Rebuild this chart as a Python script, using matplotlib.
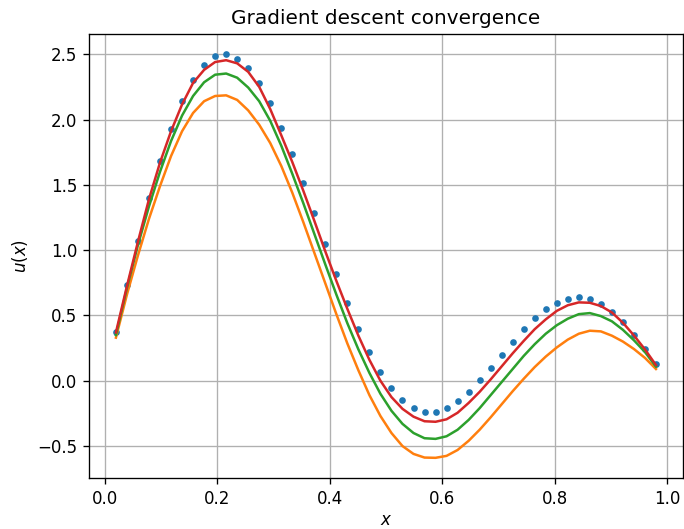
import numpy as np
import matplotlib
matplotlib.use("Agg")
import matplotlib.pyplot as plt

# sample locations k/51, k = 1..50
x = np.arange(1, 51) / 51.0

u_data = [0.370, 0.732, 1.071, 1.396, 1.681, 1.931, 2.140, 2.301, 2.416, 2.485,
          2.500, 2.467, 2.391, 2.276, 2.123, 1.937, 1.733, 1.511, 1.281, 1.046,
          0.817, 0.597, 0.398, 0.220, 0.067, -0.056, -0.148, -0.209, -0.237, -0.237,
          -0.209, -0.158, -0.087, 0.004, 0.099, 0.200, 0.298, 0.393, 0.477, 0.546,
          0.597, 0.628, 0.638, 0.623, 0.587, 0.526, 0.447, 0.352, 0.245, 0.125]

u_orange = [0.330, 0.660, 0.960, 1.240, 1.490, 1.720, 1.910, 2.050, 2.140, 2.180,
            2.185, 2.150, 2.070, 1.960, 1.820, 1.645, 1.440, 1.215, 0.980, 0.745,
            0.510, 0.285, 0.080, -0.110, -0.270, -0.400, -0.500, -0.560, -0.588, -0.590,
            -0.575, -0.530, -0.460, -0.375, -0.280, -0.180, -0.080, 0.015, 0.105, 0.185,
            0.255, 0.315, 0.360, 0.383, 0.378, 0.345, 0.300, 0.243, 0.175, 0.090]

u_green = [0.350, 0.710, 1.040, 1.335, 1.600, 1.835, 2.030, 2.180, 2.285, 2.343,
           2.352, 2.320, 2.245, 2.140, 1.990, 1.800, 1.585, 1.360, 1.125, 0.890,
           0.660, 0.440, 0.240, 0.060, -0.100, -0.230, -0.330, -0.400, -0.440, -0.445,
           -0.425, -0.375, -0.300, -0.210, -0.110, -0.010, 0.090, 0.190, 0.280, 0.360,
           0.425, 0.475, 0.510, 0.518, 0.495, 0.455, 0.390, 0.310, 0.220, 0.108]

u_red = [0.370, 0.725, 1.065, 1.390, 1.670, 1.910, 2.115, 2.280, 2.380, 2.440,
         2.454, 2.430, 2.365, 2.250, 2.080, 1.880, 1.675, 1.455, 1.225, 0.990,
         0.765, 0.550, 0.345, 0.160, 0.000, -0.125, -0.215, -0.275, -0.310, -0.314,
         -0.295, -0.245, -0.170, -0.085, 0.010, 0.110, 0.210, 0.305, 0.395, 0.470,
         0.535, 0.578, 0.600, 0.597, 0.572, 0.523, 0.444, 0.347, 0.240, 0.120]

fig = plt.figure(figsize=(5.7, 529 / 120), dpi=120)
ax = fig.add_axes([0.130, 0.0964, 0.8685, 0.8393])
ax.plot(x, u_data, '.', color='C0')
ax.plot(x, u_orange, color='C1')
ax.plot(x, u_green, color='C2')
ax.plot(x, u_red, color='C3')
ax.grid(True)
ax.set_title("Gradient descent convergence")
ax.set_xlabel("$x$", labelpad=2)
ax.set_ylabel("$u(x)$")
fig.savefig("out.png", dpi=120)
